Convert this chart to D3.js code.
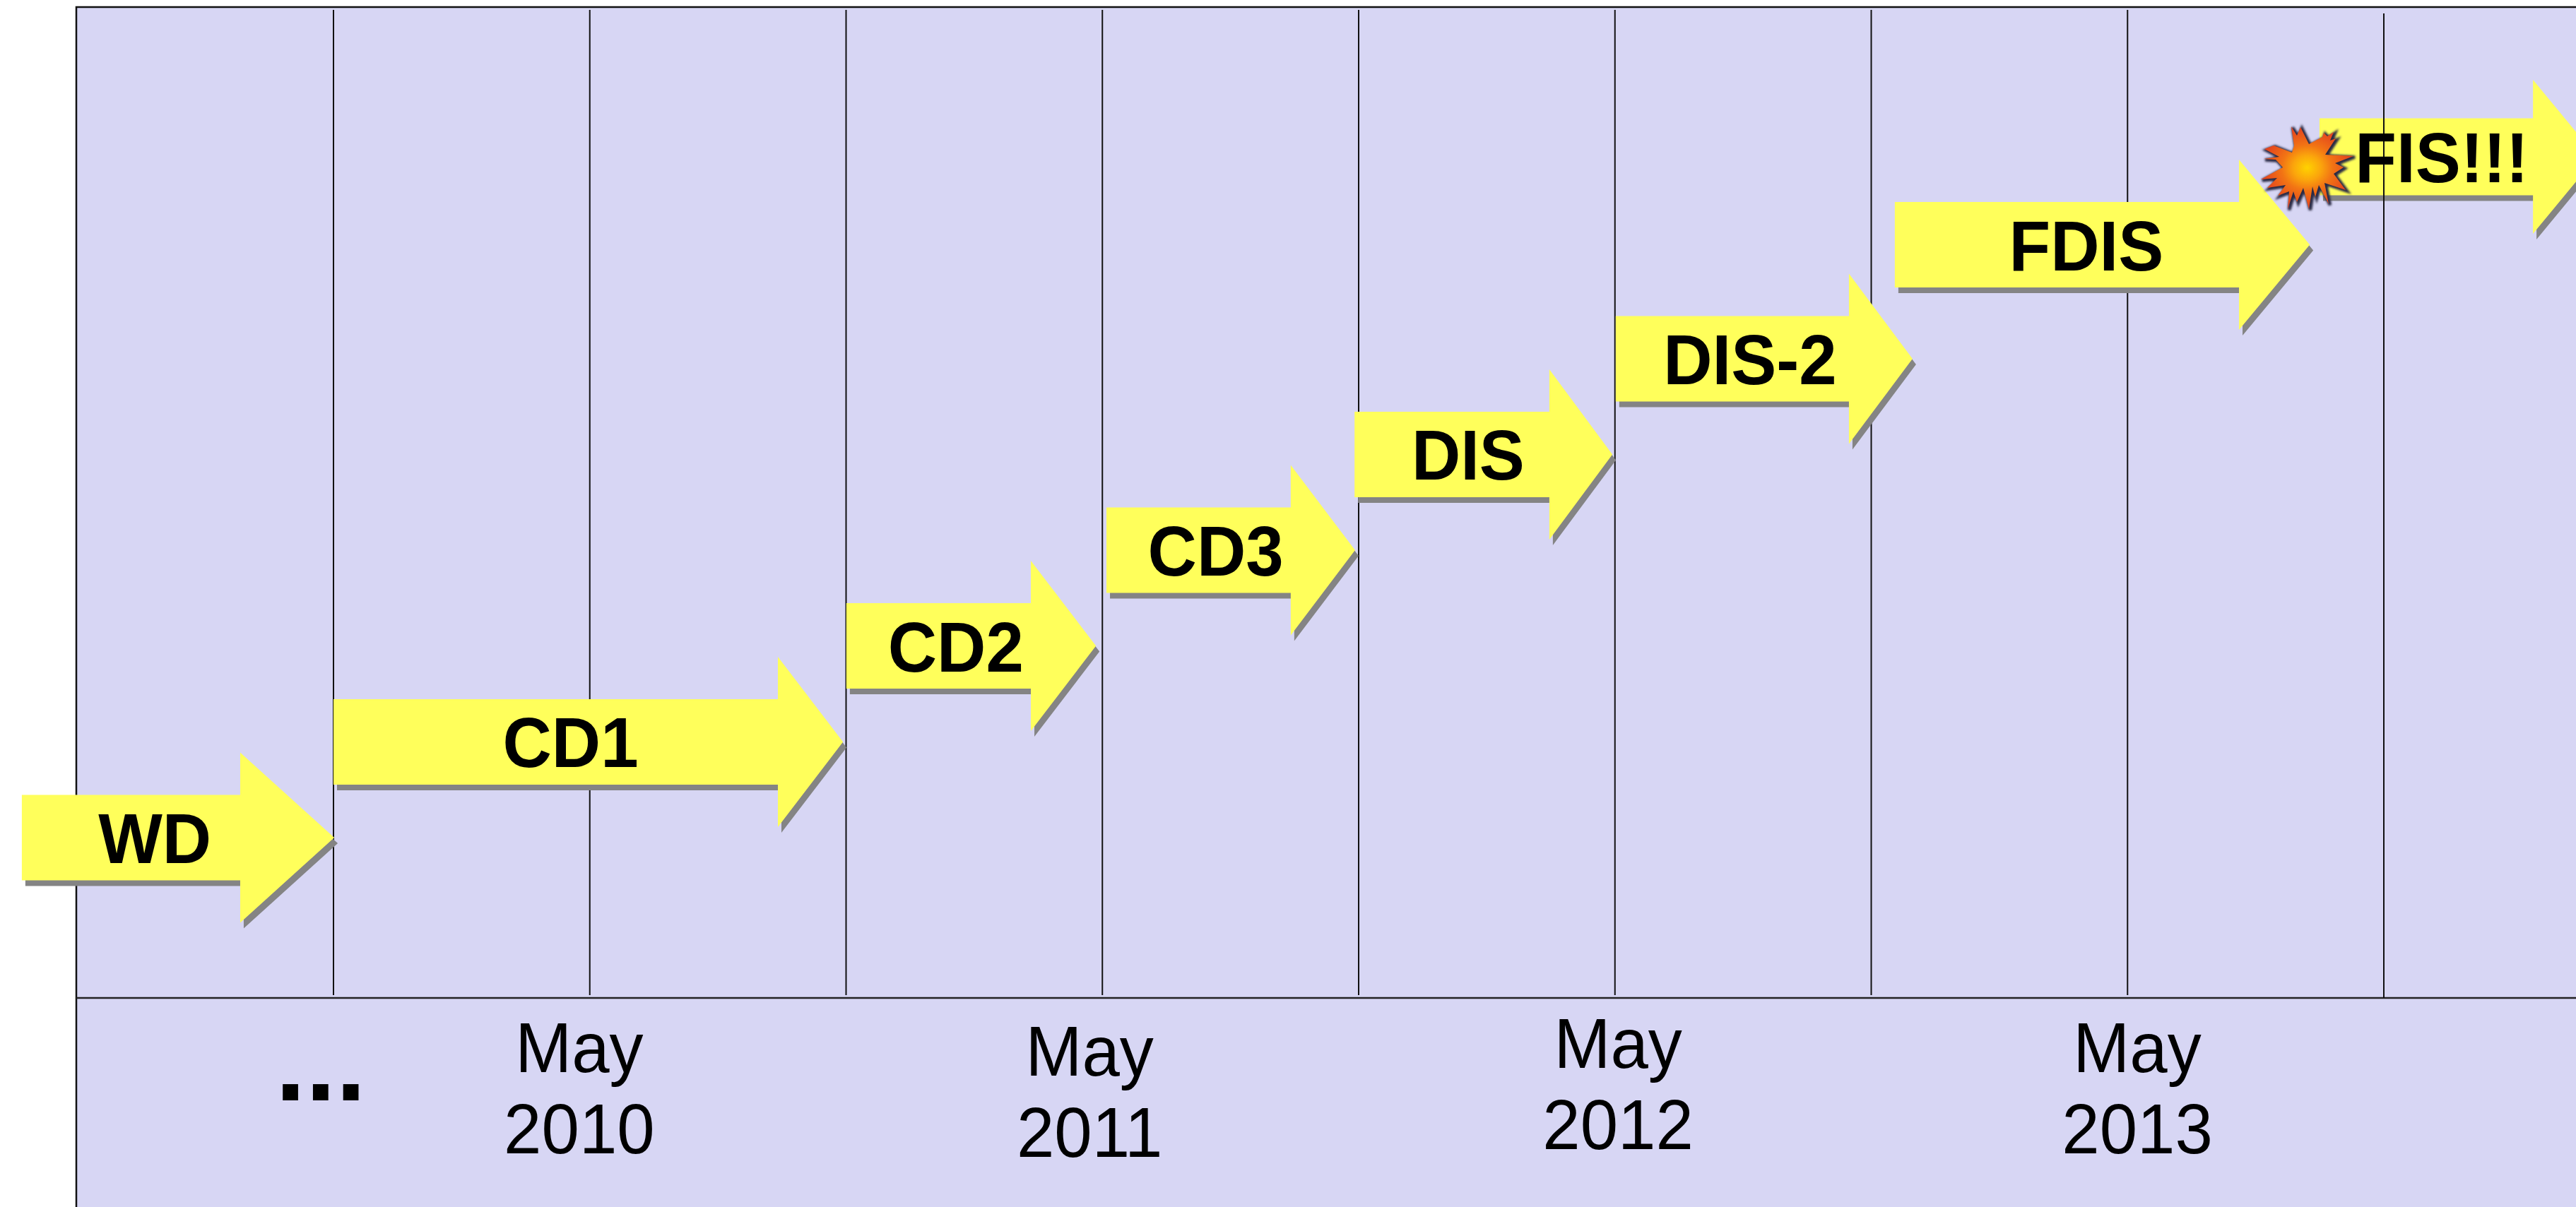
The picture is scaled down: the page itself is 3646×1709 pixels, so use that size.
<!DOCTYPE html>
<html>
<head>
<meta charset="utf-8">
<style>
  html, body { margin: 0; padding: 0; background: #fff; overflow: hidden; }
  text { font-family: "Liberation Sans", Arial, sans-serif; fill: #000; }
</style>
<script src="https://cdn.jsdelivr.net/npm/d3@7"></script>
</head>
<body>
<div id="chart"></div>
<script>
const WIDTH = 3646;
const HEIGHT = 1709;

// x values are in "meeting" units (one unit = one vertical line), y values in stage levels
const stages = ["WD", "CD1", "CD2", "CD3", "DIS", "DIS-2", "FDIS", "FIS!!!"];
const stageStart = [-0.216, 1.0, 3.001, 4.016, 4.984, 6.003, 7.092, 8.749];
const stageHead = [0.636, 2.734, 3.721, 4.735, 5.744, 6.913, 8.435, 9.582];
const stageEnd = [1.003, 2.988, 3.975, 4.986, 5.99, 7.161, 8.711, 9.83];
const stageLevel = [1.618, 2.584, 3.553, 4.519, 5.485, 6.45, 7.601, 8.489];
const stageLabelAt = [0.303, 1.925, 3.428, 4.442, 5.427, 6.527, 7.839, 9.226];

const meetings = [1, 2, 3, 4, 5, 6, 7, 8, 9];

const months = ["May", "May", "May", "May"];
const years = ["2010", "2011", "2012", "2013"];
const dateAt = [1.959, 3.95, 6.012, 8.038];
const dateLevel = [-0.748, -0.784, -0.706, -0.748];

// outline of the burst on the last arrow
const burstDx = [-21, -25, -17, -12, 0, 19, 21, 26, 35, 30, 38, 23, 63, 37, 49, 35, 52, 22, 28, 14, 9, 5, 0, -8, -17, -22, -30, -28, -44, -33, -59, -45, -68, -37, -47, -64, -42, -63, -50, -24];
const burstDy = [-33, -60, -47, -59, -35, -45, -51, -46, -52, -40, -43, -20, -18, -8, -2, 7, 30, 20, 50, 23, 40, 25, 57, 27, 47, 32, 57, 32, 38, 23, 27, 13, 15, -2, -13, -14, -17, -28, -33, -23];

const BG = "#d7d6f4";
const YELLOW = "#ffff5b";
const SHADOW = "#848484";

const svg = d3.select("#chart")
    .append("svg")
    .attr("width", WIDTH)
    .attr("height", HEIGHT)
    .style("display", "block");

const x = d3.scaleLinear().domain([1, 9]).range([472, 3374]);
const y = d3.scaleLinear().domain([0, 10]).range([1413, 10]);

const defs = svg.append("defs");

const grad = defs.append("radialGradient").attr("id", "burstFill");
grad.append("stop").attr("offset", "0%").attr("stop-color", "#ffd200");
grad.append("stop").attr("offset", "30%").attr("stop-color", "#fba50c");
grad.append("stop").attr("offset", "55%").attr("stop-color", "#f27414");
grad.append("stop").attr("offset", "100%").attr("stop-color", "#e2401f");

defs.append("filter").attr("id", "burstBlur")
    .attr("x", "-20%").attr("y", "-20%").attr("width", "140%").attr("height", "140%")
    .append("feGaussianBlur").attr("stdDeviation", 1.6);

// background panel
svg.append("rect")
    .attr("x", 108).attr("y", 10)
    .attr("width", WIDTH + 10).attr("height", HEIGHT + 10)
    .attr("fill", BG)
    .attr("stroke", "#111")
    .attr("stroke-width", 2.5);

const arrows = stages.map((s, i) => ({
    name: s,
    x0: x(stageStart[i]),
    xh: x(stageHead[i]),
    x1: x(stageEnd[i]),
    cy: y(stageLevel[i]),
    labelX: x(stageLabelAt[i]),
    // the last arrow is a bit smaller than the others
    shaft: i === stages.length - 1 ? 54.5 : 60.5,
    head: i === stages.length - 1 ? 109 : 120.5
}));

const arrowLine = d3.line();

function arrowPath(d) {
    return arrowLine([
        [d.x0, d.cy - d.shaft],
        [d.xh, d.cy - d.shaft],
        [d.xh, d.cy - d.head],
        [d.x1, d.cy],
        [d.xh, d.cy + d.head],
        [d.xh, d.cy + d.shaft],
        [d.x0, d.cy + d.shaft]
    ]) + "Z";
}

function drawArrow(parent, d) {
    const g = parent.append("g").attr("class", "arrow");
    g.append("path")
        .attr("d", arrowPath(d))
        .attr("transform", "translate(5,8)")
        .attr("fill", SHADOW);
    g.append("path")
        .attr("d", arrowPath(d))
        .attr("fill", YELLOW);
}

const last = arrows[arrows.length - 1];

// FIS sits under the grid lines, everything else on top of them
drawArrow(svg, last);

svg.append("line")
    .attr("x1", 108).attr("x2", WIDTH)
    .attr("y1", y(0)).attr("y2", y(0))
    .attr("stroke", "#222")
    .attr("stroke-width", 2.5);

svg.selectAll(".meeting")
    .data(meetings)
    .enter().append("line")
    .attr("class", "meeting")
    .attr("x1", d => x(d))
    .attr("x2", d => x(d))
    .attr("y1", d => d === 9 ? 19 : 14)
    .attr("y2", d => d === 9 ? y(0) : 1409)
    .attr("stroke", "#111")
    .attr("stroke-width", 2);

arrows.slice(0, -1).forEach(d => drawArrow(svg, d));

// burst
const burstX = x(9) - 106;
const burstY = last.cy + 17;
const burstPoints = burstDx.map((dx, i) => [dx, burstDy[i]]);
const burst = svg.append("g")
    .attr("class", "burst")
    .attr("transform", `translate(${burstX},${burstY})`);

burst.append("path")
    .attr("d", d3.line()(burstPoints) + "Z")
    .attr("transform", "translate(2,1.5)")
    .attr("fill", "#2c2c44")
    .attr("stroke", "#2c2c44")
    .attr("stroke-width", 4.5)
    .attr("filter", "url(#burstBlur)");

burst.append("path")
    .attr("d", d3.line()(burstPoints) + "Z")
    .attr("fill", "url(#burstFill)");

// the original type is a little narrower than Liberation at this height
const TEXT_SQUEEZE_BOLD = 0.96;
const TEXT_SQUEEZE = 0.96;

// stage labels
svg.selectAll(".stage")
    .data(arrows)
    .enter().append("text")
    .attr("class", "stage")
    .attr("transform", d => `translate(${d.labelX},${d.cy + 36}) scale(${TEXT_SQUEEZE_BOLD},1)`)
    .attr("text-anchor", "middle")
    .attr("font-size", 100)
    .attr("font-weight", "bold")
    .text(d => d.name);

// dates below the divider
const dates = years.map((yr, i) => ({ month: months[i], year: yr, at: dateAt[i], level: dateLevel[i] }));

svg.selectAll(".month")
    .data(dates)
    .enter().append("text")
    .attr("class", "month")
    .attr("transform", d => `translate(${x(d.at)},${y(d.level)}) scale(${TEXT_SQUEEZE},1)`)
    .attr("text-anchor", "middle")
    .attr("font-size", 100)
    .text(d => d.month);

svg.selectAll(".year")
    .data(dates)
    .enter().append("text")
    .attr("class", "year")
    .attr("transform", d => `translate(${x(d.at)},${y(d.level) + 115}) scale(${TEXT_SQUEEZE},1)`)
    .attr("text-anchor", "middle")
    .attr("font-size", 100)
    .text(d => d.year);

svg.append("text")
    .attr("x", x(0.95))
    .attr("y", y(-1.033))
    .attr("text-anchor", "middle")
    .attr("font-size", 154)
    .attr("font-weight", "bold")
    .text("...");
</script>
</body>
</html>
